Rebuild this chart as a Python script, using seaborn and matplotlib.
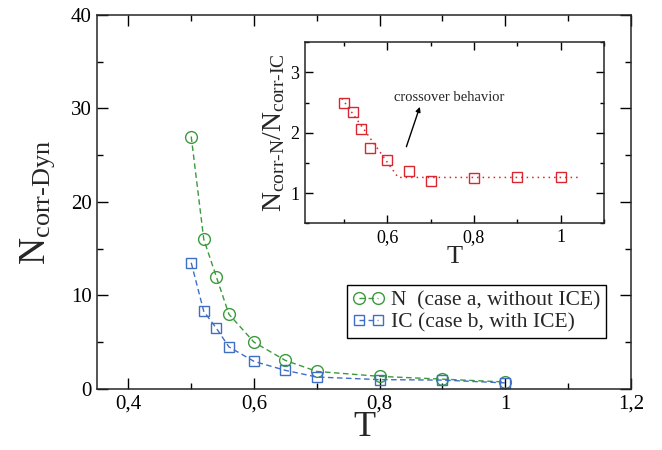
import matplotlib
matplotlib.use('Agg')

import matplotlib.pyplot as plt
import seaborn as sns
from matplotlib.ticker import MultipleLocator, FuncFormatter

# data
T = [0.5, 0.52, 0.54, 0.56, 0.6, 0.65, 0.7, 0.8, 0.9, 1.0]
n_case_a = [27.0, 16.0, 12.0, 8.0, 5.0, 3.05, 1.88, 1.35, 1.05, 0.75]
ic_case_b = [13.5, 8.3, 6.5, 4.5, 2.95, 1.99, 1.28, 1.0, 0.95, 0.65]
ratio = [2.50, 2.35, 2.06, 1.74, 1.55, 1.37, 1.20, 1.25, 1.26, 1.26]
fit_T = [0.495, 0.625, 1.045]
fit_ratio = [2.57, 1.26, 1.26]

GREEN = '#3a9a3c'
BLUE = '#3f6fc4'
RED = '#d8272f'

sns.set_style('ticks')
plt.rcParams['font.family'] = ['Liberation Serif', 'DejaVu Serif']
plt.rcParams['mathtext.fontset'] = 'custom'
plt.rcParams['mathtext.rm'] = 'Liberation Serif'
plt.rcParams['mathtext.it'] = 'Liberation Serif:italic'
plt.rcParams['axes.linewidth'] = 1.1


def comma(v, pos):
    s = f'{v:.1f}'.rstrip('0').rstrip('.')
    return s.replace('.', ',')


def style_ticks(a, size, major_len, minor_len):
    a.tick_params(which='both', direction='in', top=True, right=True,
                  colors='black', width=1.0, labelsize=size)
    a.tick_params(which='major', length=major_len, pad=4)
    a.tick_params(which='minor', length=minor_len)


fig = plt.figure(figsize=(6.62, 4.5), dpi=100)
ax = fig.add_axes([0.1465, 0.1356, 0.8066, 0.8311])

sns.lineplot(x=T, y=n_case_a, ax=ax, color=GREEN, linestyle='--', linewidth=1.0,
             marker='o', markersize=8.5, markerfacecolor='none', markeredgecolor=GREEN,
             markeredgewidth=1.0, dashes=False, label='N  (case a, without ICE)')
sns.lineplot(x=T, y=ic_case_b, ax=ax, color=BLUE, linestyle='--', linewidth=1.0,
             marker='s', markersize=7, markerfacecolor='none', markeredgecolor=BLUE,
             markeredgewidth=1.0, dashes=False, label='IC (case b, with ICE)')
for line in ax.get_lines():
    line.set_dashes([4, 2.5])

ax.set_xlim(0.35, 1.2)
ax.set_ylim(0, 40)
ax.xaxis.set_major_locator(MultipleLocator(0.2))
ax.xaxis.set_minor_locator(MultipleLocator(0.1))
ax.yaxis.set_major_locator(MultipleLocator(10))
ax.yaxis.set_minor_locator(MultipleLocator(5))
ax.xaxis.set_major_formatter(FuncFormatter(comma))
style_ticks(ax, 15, 8, 4)
ax.set_xlabel('T', fontsize=26, labelpad=-2)
ax.set_ylabel(r'N$_{\mathrm{corr}\text{-}\mathrm{Dyn}}$', fontsize=27, labelpad=10)

leg = ax.legend(loc='upper left', bbox_to_anchor=(0.468, 0.278), borderaxespad=0,
                fontsize=15.5, frameon=True, fancybox=False, framealpha=1,
                edgecolor='black', handlelength=1.5, handletextpad=0.3,
                labelspacing=0.1, borderpad=0.25, numpoints=2)
leg.get_frame().set_linewidth(1.0)

# inset with the ratio
ins = fig.add_axes([0.4607, 0.5038, 0.4517, 0.4022])
sns.lineplot(x=fit_T, y=fit_ratio, ax=ins, color=RED, linewidth=1.1)
ins.get_lines()[0].set_dashes([1, 2.6])
sns.lineplot(x=T, y=ratio, ax=ins, color=RED, linestyle='none', marker='s',
             markersize=7.5, markerfacecolor='none', markeredgecolor=RED,
             markeredgewidth=1.0)
ins.set_xlim(0.41, 1.1)
ins.set_ylim(0.5, 3.5)
ins.xaxis.set_major_locator(MultipleLocator(0.2))
ins.xaxis.set_minor_locator(MultipleLocator(0.1))
ins.yaxis.set_major_locator(MultipleLocator(1))
ins.yaxis.set_minor_locator(MultipleLocator(0.5))
ins.xaxis.set_major_formatter(FuncFormatter(comma))
style_ticks(ins, 13, 6, 3)
ins.set_xlabel('T', fontsize=19, labelpad=0)
ins.set_ylabel(r'N$_{\mathrm{corr}\text{-}\mathrm{N}}$/N$_{\mathrm{corr}\text{-}\mathrm{IC}}$',
               fontsize=20, labelpad=2)
ins.annotate('', xy=(0.675, 2.43), xytext=(0.644, 1.77),
             arrowprops=dict(arrowstyle='-|>', color='black', lw=1.0,
                             mutation_scale=7, shrinkA=0, shrinkB=0))
ins.text(0.615, 2.58, 'crossover behavior', fontsize=10.5, va='center', ha='left')

fig.savefig('out.png', dpi=100)
